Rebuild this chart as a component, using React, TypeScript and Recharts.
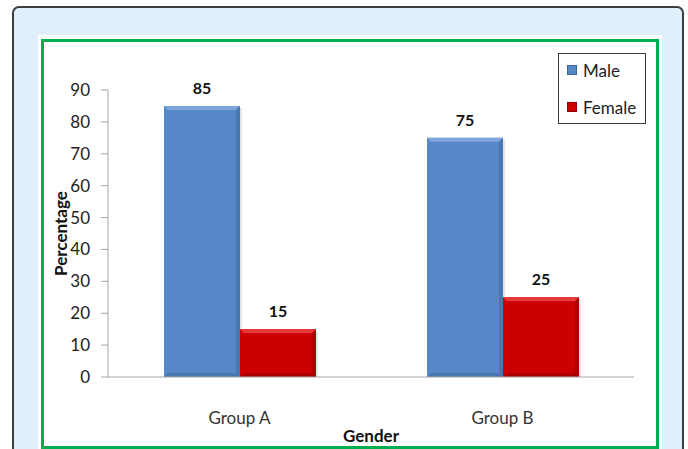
import { BarChart, Bar, XAxis, YAxis, LabelList, Label } from 'recharts';

const groups = ['Group A', 'Group B'];
const male = [85, 75];
const female = [15, 25];
const yTicks = [0, 10, 20, 30, 40, 50, 60, 70, 80, 90];
const seriesNames = ['Male', 'Female'];

const data = groups.map((g, i) => ({ group: g, Male: male[i], Female: female[i] }));

const FONT = 'Lato, "Open Sans", sans-serif';

const palette: Record<string, { base: string; light: string; dark: string }> = {
  Male: { base: '#5688c7', light: '#7ea6da', dark: '#3c659c' },
  Female: { base: '#cc0000', light: '#e43a3a', dark: '#8c0000' },
};

// bar with a soft bevel: lighter top edge, darker sides and bottom
function bevelShape(key: string) {
  return (props: any) => {
    const { x, y, width, height } = props;
    if (!height || height <= 0) return null;
    const c = palette[key];
    const b = 4;
    return (
      <g>
        <rect x={x + 2} y={y + 2} width={width} height={height - 2} fill="#000" opacity={0.1} />
        <rect x={x} y={y} width={width} height={height} fill={c.base} />
        <polygon points={`${x},${y} ${x + width},${y} ${x + width - b},${y + b} ${x + b},${y + b}`} fill={c.light} />
        <polygon points={`${x + width},${y} ${x + width},${y + height} ${x + width - b},${y + height - b} ${x + width - b},${y + b}`} fill={c.dark} opacity={0.45} />
        <polygon points={`${x},${y + height} ${x + width},${y + height} ${x + width - b},${y + height - b} ${x + b},${y + height - b}`} fill={c.dark} opacity={0.5} />
      </g>
    );
  };
}

function LegendBox() {
  return (
    <div
      style={{
        position: 'absolute',
        left: 558,
        top: 53,
        width: 88,
        height: 71,
        boxSizing: 'border-box',
        border: '1px solid #3a3a3a',
        background: '#fff',
        fontFamily: FONT,
        fontSize: 17,
        color: '#222',
      }}
    >
      {seriesNames.map((k, i) => (
        <div key={k} style={{ position: 'absolute', left: 8, top: 5 + i * 37, display: 'flex', alignItems: 'center', height: 22 }}>
          <span
            style={{
              display: 'inline-block',
              width: 8,
              height: 8,
              background: palette[k].base,
              border: `1px solid ${palette[k].dark}`,
              marginRight: 6,
            }}
          />
          <span>{k}</span>
        </div>
      ))}
    </div>
  );
}

function GroupTick(props: any) {
  const { x, y, payload } = props;
  return (
    <text x={x} y={y + 39} textAnchor="middle" fontFamily={FONT} fontSize={17} fill="#333">
      {payload.value}
    </text>
  );
}

export default function App() {
  return (
    <div style={{ position: 'absolute', left: 0, top: 0, width: 688, height: 449, overflow: 'hidden', background: '#fff' }}>
      <div
        style={{
          position: 'absolute',
          left: 12,
          top: 6,
          width: 672,
          height: 470,
          background: '#dff0fb',
          border: '2px solid #3d3d3d',
          borderRadius: 7,
          boxSizing: 'border-box',
        }}
      />
      <div style={{ position: 'absolute', left: 38, top: 35, width: 624, height: 430, background: '#fff' }} />
      <div
        style={{
          position: 'absolute',
          left: 41,
          top: 39,
          width: 618,
          height: 410,
          border: '3px solid #00b050',
          boxSizing: 'border-box',
        }}
      />
      <div style={{ position: 'absolute', left: 0, top: 0 }}>
        <BarChart
          width={688}
          height={449}
          data={data}
          margin={{ top: 90, right: 54, bottom: 0, left: 48 }}
          barCategoryGap={56}
          barGap={0}
        >
          <XAxis
            dataKey="group"
            height={72}
            axisLine={{ stroke: '#a6a6a6' }}
            tickLine={false}
            tick={<GroupTick />}
          >
            <Label
              content={({ viewBox }: any) => (
                <text
                  x={viewBox.x + viewBox.width / 2}
                  y={viewBox.y + 65}
                  textAnchor="middle"
                  fontFamily={FONT}
                  fontSize={17}
                  fontWeight="bold"
                  fill="#111"
                >
                  Gender
                </text>
              )}
            />
          </XAxis>
          <YAxis
            width={60}
            domain={[0, 90]}
            ticks={yTicks}
            interval={0}
            axisLine={{ stroke: '#a6a6a6' }}
            tickLine={{ stroke: '#a6a6a6' }}
            tickSize={7}
            tickMargin={11}
            tick={{ fontFamily: FONT, fontSize: 17, fill: '#222' }}
          >
            <Label
              content={({ viewBox }: any) => {
                const cx = viewBox.x + 12;
                const cy = viewBox.y + viewBox.height / 2;
                return (
                  <text
                    x={cx}
                    y={cy}
                    transform={`rotate(-90 ${cx} ${cy})`}
                    textAnchor="middle"
                    dominantBaseline="central"
                    fontFamily={FONT}
                    fontSize={17}
                    fontWeight="bold"
                    fill="#111"
                  >
                    Percentage
                  </text>
                );
              }}
            />
          </YAxis>
          <Bar dataKey="Male" fill={palette.Male.base} shape={bevelShape('Male')} isAnimationActive={false}>
            <LabelList dataKey="Male" position="top" offset={12} fontFamily={FONT} fontSize={16} fontWeight="bold" fill="#111" />
          </Bar>
          <Bar dataKey="Female" fill={palette.Female.base} shape={bevelShape('Female')} isAnimationActive={false}>
            <LabelList dataKey="Female" position="top" offset={12} fontFamily={FONT} fontSize={16} fontWeight="bold" fill="#111" />
          </Bar>
        </BarChart>
      </div>
      <LegendBox />
    </div>
  );
}
